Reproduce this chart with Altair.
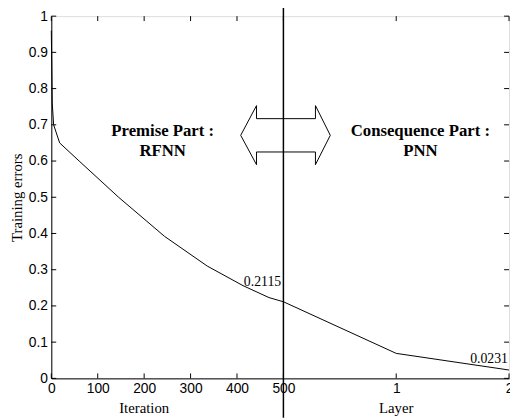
import altair as alt
import pandas as pd

# ---- data ----
iter_x = [0, 2, 5, 18, 60, 145, 244, 336, 413, 469, 500]
iter_err = [0.96, 0.76, 0.70, 0.65, 0.60, 0.50, 0.392, 0.31, 0.256, 0.223, 0.2115]
layers = [1, 2]
layer_err = [0.069, 0.0231]
LAYER_UNIT = 243  # axis units per layer after iteration 500

x_ticks = [0, 100, 200, 300, 400, 500, 500 + LAYER_UNIT, 500 + 2 * LAYER_UNIT]
y_ticks = [0, 0.1, 0.2, 0.3, 0.4, 0.5, 0.6, 0.7, 0.8, 0.9, 1.0]

arrow_x = [408, 442, 442, 569, 569, 601, 569, 569, 442, 442, 408]
arrow_y = [0.671, 0.753, 0.717, 0.717, 0.753, 0.671, 0.590, 0.625, 0.625, 0.590, 0.671]

labels_text = ["0.2115", "0.0231"]
labels_x = [455, 943]
labels_y = [0.266, 0.052]

part_text = ["Premise Part :", "RFNN", "Consequence Part :", "PNN"]
part_x = [240, 240, 795, 795]
part_y = [0.683, 0.628, 0.683, 0.628]

W, H = 465, 368
XMAX = 500 + 2 * LAYER_UNIT

curve = pd.DataFrame({
    "x": iter_x + [500 + LAYER_UNIT * l for l in layers],
    "y": iter_err + layer_err,
})
curve["o"] = range(len(curve))

xs = alt.Scale(domain=[0, XMAX], nice=False, zero=False)
ys = alt.Scale(domain=[0, 1], nice=False)

label_expr = ("datum.value == %d ? '1' : datum.value == %d ? '2' : datum.value"
              % (500 + LAYER_UNIT, XMAX))

AX = alt.Axis(values=x_ticks, labelExpr=label_expr, ticks=False,
              grid=False, title=None, labelFont="Liberation Sans",
              labelFontSize=14, labelColor="black", labelPadding=3,
              domainColor="black", labelFlush=False, labelOverlap=False)
AY = alt.Axis(values=y_ticks, format="~g", ticks=False, grid=False,
              title="Training errors", titleFont="Liberation Serif",
              titleFontSize=15, titleFontWeight="normal",
              titleColor="black", titlePadding=4,
              labelFont="Liberation Sans", labelFontSize=14,
              labelColor="black", labelPadding=4,
              domainColor="black", labelFlush=False, labelOverlap=False)

XQ = dict(scale=xs, axis=AX, title=None)
YQ = dict(scale=ys, axis=AY, title="Training errors")

base_line = alt.Chart(curve).mark_line(color="black", strokeWidth=1).encode(
    x=alt.X("x:Q", **XQ), y=alt.Y("y:Q", **YQ), order="o:Q")

xt = pd.DataFrame({"x": x_ticks})
yt = pd.DataFrame({"y": y_ticks})

bottom_ticks = alt.Chart(xt).mark_rule(color="black").encode(
    x=alt.X("x:Q", **XQ), y=alt.value(H - 5), y2=alt.value(H))
top_ticks = alt.Chart(xt).mark_rule(color="black").encode(
    x=alt.X("x:Q", **XQ), y=alt.value(0), y2=alt.value(5))
left_ticks = alt.Chart(yt).mark_rule(color="black").encode(
    y=alt.Y("y:Q", **YQ), x=alt.value(0), x2=alt.value(5))
right_ticks = alt.Chart(yt).mark_rule(color="black").encode(
    y=alt.Y("y:Q", **YQ), x=alt.value(W - 5), x2=alt.value(W))

vline = alt.Chart(pd.DataFrame({"x": [500]})).mark_rule(
    color="black", strokeWidth=1.5).encode(
    x=alt.X("x:Q", **XQ), y=alt.value(-13), y2=alt.value(H + 40))

arrow_df = pd.DataFrame({"x": arrow_x, "y": arrow_y, "o": range(len(arrow_x))})
arrow = alt.Chart(arrow_df).mark_line(color="black", strokeWidth=1).encode(
    x=alt.X("x:Q", **XQ), y=alt.Y("y:Q", **YQ), order="o:Q")

val_labels = alt.Chart(pd.DataFrame({"t": labels_text, "x": labels_x, "y": labels_y})).mark_text(
    font="Liberation Serif", fontSize=14, color="black").encode(
    x=alt.X("x:Q", **XQ), y=alt.Y("y:Q", **YQ), text="t:N")

parts = alt.Chart(pd.DataFrame({"t": part_text, "x": part_x, "y": part_y})).mark_text(
    font="Liberation Serif", fontSize=17, fontWeight="bold", color="black").encode(
    x=alt.X("x:Q", **XQ), y=alt.Y("y:Q", **YQ), text="t:N")

xtitles = alt.Chart(pd.DataFrame({"t": ["Iteration", "Layer"],
                                  "x": [200, 500 + LAYER_UNIT]})).mark_text(
    font="Liberation Serif", fontSize=15, color="black").encode(
    x=alt.X("x:Q", **XQ), y=alt.value(H + 30), text="t:N")

chart = alt.layer(
    base_line, bottom_ticks, top_ticks, left_ticks, right_ticks,
    vline, arrow, val_labels, parts, xtitles
).properties(
    width=W, height=H,
    autosize=alt.AutoSizeParams(type="none"),
    padding={"left": 44, "top": 5, "right": 1, "bottom": 38},
).configure_view(stroke="black", strokeWidth=1).configure(background="white")

chart.save("out.html", embed_options={"renderer": "svg", "actions": False})
